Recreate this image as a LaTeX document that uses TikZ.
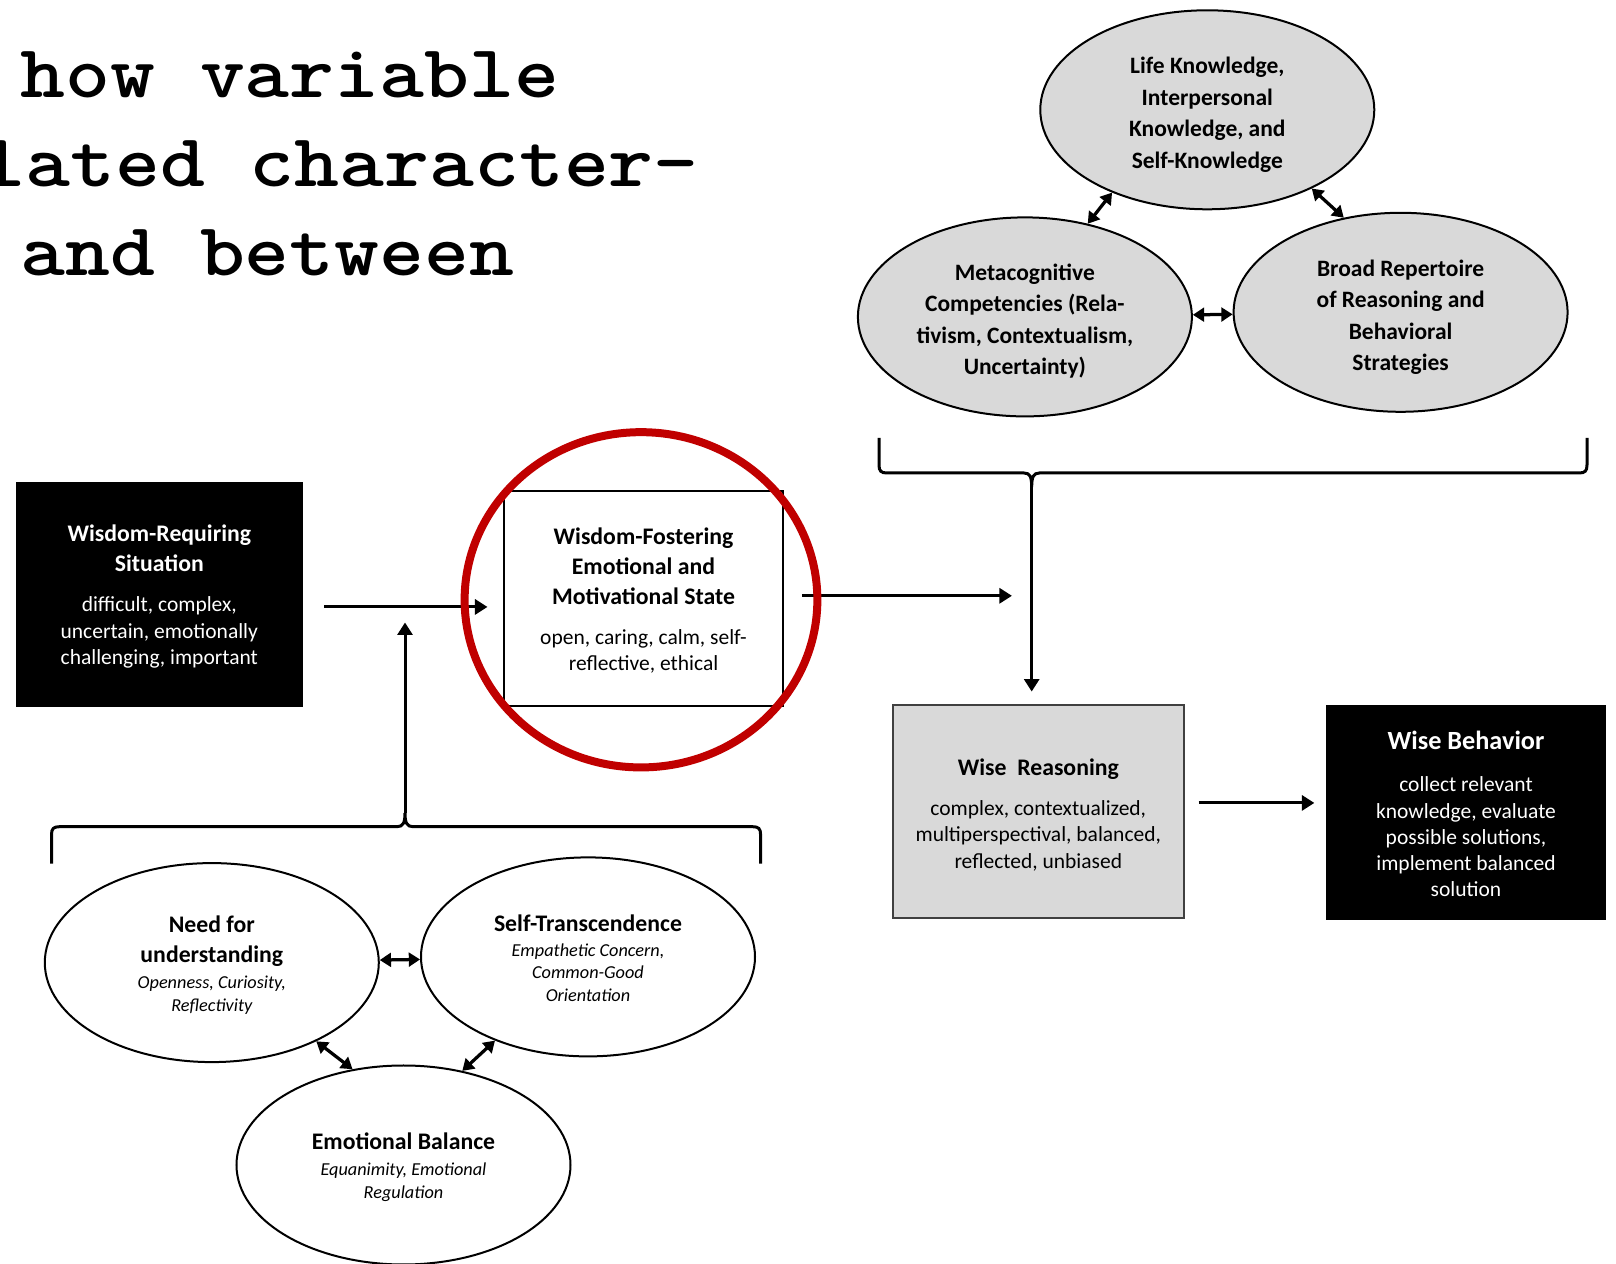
\documentclass[tikz,border=0pt]{standalone}
\usepackage{fontspec}
\setmainfont{Carlito}
\newfontfamily\headfont{lmmonolt10-bold.otf}[FakeStretch=1.14]
\usetikzlibrary{shapes,arrows.meta}

\definecolor{boxgray}{HTML}{D9D9D9}
\definecolor{ringred}{HTML}{C00000}

\newcommand{\ttl}{\fontsize{9.5}{11.9}\selectfont\normalfont\bfseries}
\newcommand{\bdy}{\fontsize{8.6}{10.5}\selectfont}
\newcommand{\itl}{\fontsize{7.3}{9.1}\selectfont\itshape}
\newcommand{\tstrut}[1]{\rule{0pt}{#1}}

\tikzset{
  blackbox/.style={rectangle, fill=black, draw=black, text=white, align=center, font=\bdy, inner sep=0pt},
  whitebox/.style={rectangle, draw=black, line width=0.8pt, align=center, font=\bdy, inner sep=0pt},
  graybox/.style={rectangle, fill=boxgray, draw=black!75, line width=0.8pt, align=center, font=\bdy, inner sep=0pt},
  bubble/.style={ellipse, draw=black, line width=0.8pt, minimum width=133.6pt, minimum height=79.6pt, align=center, inner sep=0pt},
  graybubble/.style={bubble, fill=boxgray, font=\fontsize{9.4}{12.6}\selectfont\bfseries},
  headline/.style={anchor=base west, inner sep=0pt, font=\headfont\fontsize{30}{36}\selectfont},
  arr/.style={-{Triangle[length=5pt,width=6pt]}, line width=1.2pt},
  dbl/.style={{Triangle[length=4.5pt,width=5.5pt]}-{Triangle[length=4.5pt,width=5.5pt]}, line width=1.3pt},
  brace/.style={line width=1.2pt}
}

\begin{document}
\begin{tikzpicture}[x=0.4pt,y=-0.4pt]
\useasboundingbox (0,0) rectangle (1616,1264);
\clip (0,0) rectangle (1616,1264);

% heading, cut off at the left
\node[headline] (head1) at (20,98) {how variable};
\node[headline] (head2) at (-20,187) {lated character-};
\node[headline] (head3) at (20,276) {and between};

% knowledge bubbles
\node[graybubble] (life) at (1207.3,109.8) {\tstrut{10.6pt}Life Knowledge,\\Interpersonal\\Knowledge, and\\Self-Knowledge};
\node[graybubble] (meta) at (1024.9,316.9) {\tstrut{9.8pt}Metacognitive\\Competencies (Rela-\\tivism, Contextualism,\\Uncertainty)};
\node[graybubble] (reper) at (1400.6,312.3) {\tstrut{10.6pt}Broad Repertoire\\of Reasoning and\\Behavioral\\Strategies};
\draw[dbl] (life.221.8) -- (meta.56);
\draw[dbl] (life.323) -- (reper.121.7);
\draw[dbl] (meta) -- (reper);

% boxes
\node[blackbox, minimum width=114.2pt, minimum height=89.5pt] (sit) at (159.3,594.2)
  {{\ttl\tstrut{8.7pt}Wisdom-Requiring}\\[1.4pt]{\ttl Situation}\\[5.6pt]difficult, complex,\\uncertain, emotionally\\challenging, important};
\node[whitebox, minimum width=111.6pt, minimum height=86.2pt] (fost) at (643.5,598.3)
  {{\ttl\tstrut{8.3pt}Wisdom-Fostering}\\[1.5pt]{\ttl Emotional and}\\[1.5pt]{\ttl Motivational State}\\[5.6pt]open, caring, calm, self-\\reflective, ethical};
\node[graybox, minimum width=116.6pt, minimum height=85.3pt] (wreason) at (1038.3,811.7)
  {{\ttl\tstrut{9.1pt}Wise~~Reasoning}\\[5.6pt]complex, contextualized,\\multiperspectival, balanced,\\reflected, unbiased};
\node[blackbox, minimum width=111.7pt, minimum height=85.7pt] (wbeh) at (1466,812.2)
  {{\ttl\fontsize{10.5}{12.6}\selectfont\tstrut{9pt}Wise Behavior}\\[6.3pt]collect relevant\\knowledge, evaluate\\possible solutions,\\implement balanced\\solution};

% upper brace
\draw[brace] (879,438) -- (879,465) .. controls (879,471) and (881,473) .. (887,473)
  -- (1024,473) .. controls (1030,473) and (1031.7,477) .. (1031.7,487)
  .. controls (1031.7,477) and (1033.4,473) .. (1039.4,473)
  -- (1579,473) .. controls (1585,473) and (1587,471) .. (1587,465) -- (1587,438);
\coordinate (toptip) at (1031.7,487);

% lower brace
\draw[brace] (51.5,863.6) -- (51.5,834.7) .. controls (51.5,828.7) and (53.5,826.7) .. (59.5,826.7)
  -- (397,826.7) .. controls (403,826.7) and (405,823) .. (405,813)
  .. controls (405,823) and (407,826.7) .. (413,826.7)
  -- (752.6,826.7) .. controls (758.6,826.7) and (760.6,828.7) .. (760.6,834.7) -- (760.6,863.6);
\coordinate (bottip) at (405,813);
\coordinate (motend) at (405,622.5);

% arrows
\draw[arr, shorten <=8.6pt, shorten >=6.2pt] ([yshift=-5.1pt]sit.east) -- ([yshift=-5.1pt]sit.east -| fost.west);
\draw[arr, shorten <=7.1pt, shorten >=7.9pt] ([yshift=1pt]fost.east) -- ([yshift=1pt]fost.east -| toptip);
\draw[arr, shorten >=5pt] (toptip) -- (toptip |- wreason.north);
\draw[arr, shorten <=5.4pt, shorten >=4.6pt] ([yshift=3.5pt]wreason.east) -- ([yshift=3.5pt]wreason.east -| wbeh.west);
\draw[arr] (bottip) -- (motend);

% motivation bubbles
\node[bubble, font=\itl] (need) at (211.8,962.6)
  {{\ttl\tstrut{8.7pt}Need for}\\[2.9pt]{\ttl understanding}\\[1.2pt]Openness, Curiosity,\\Reflectivity};
\node[bubble, font=\itl] (self) at (588,956.9)
  {{\ttl\tstrut{7.9pt}Self-Transcendence}\\[0.7pt]Empathetic Concern,\\Common-Good\\Orientation};
\node[bubble, font=\itl] (emo) at (403.5,1165)
  {{\ttl\tstrut{8.3pt}Emotional Balance}\\[1.2pt]Equanimity, Emotional\\Regulation};
\draw[dbl] (need) -- (self);
\draw[dbl] (need.323.1) -- (emo.118.6);
\draw[dbl] (self.222.3) -- (emo.58.7);

% red ring
\node[ellipse, draw=ringred, line width=3.2pt, minimum width=141.1pt, minimum height=134.1pt, inner sep=0pt] (ring) at (641,599.8) {};
\end{tikzpicture}
\end{document}
